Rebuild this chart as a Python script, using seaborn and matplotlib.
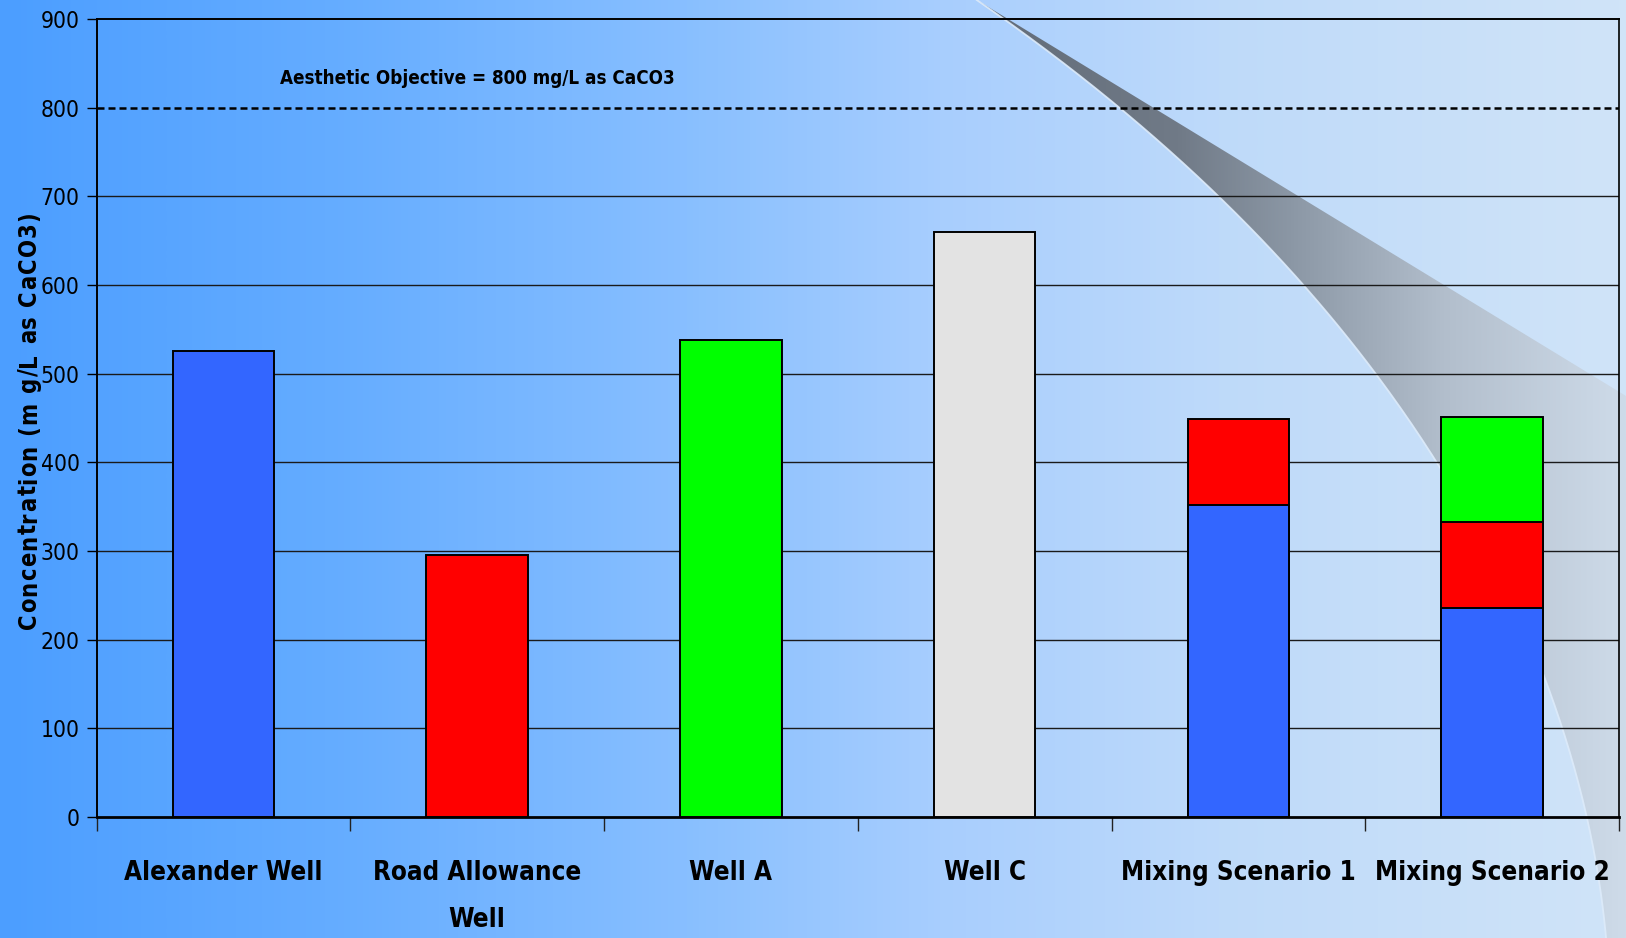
import numpy as np
import pandas as pd
import seaborn as sns
import matplotlib
matplotlib.use("Agg")
import matplotlib.pyplot as plt
from matplotlib.font_manager import (FontProperties, findfont, get_font,
                                     fontManager, weight_dict)
from matplotlib.patches import Polygon
from matplotlib.transforms import IdentityTransform
from matplotlib.colors import LinearSegmentedColormap
from matplotlib.ticker import FixedLocator

# ---- data -------------------------------------------------------------
categories = ["Alexander Well", "Road Allowance\nWell", "Well A", "Well C",
              "Mixing Scenario 1", "Mixing Scenario 2"]
sources = ["Alexander Well", "Road Allowance Well", "Well A", "Well C"]
source_colors = ["#3366FF", "#FF0000", "#00FF00", "#E3E3E3"]

alexander = [525, 0, 0, 0, 352, 236]
road_allowance = [0, 295, 0, 0, 97, 97]
well_a = [0, 0, 538, 0, 0, 118]
well_c = [0, 0, 0, 660, 0, 0]

y_ticks = [0, 100, 200, 300, 400, 500, 600, 700, 800, 900]
objective = 800
objective_label = "Aesthetic Objective = 800 mg/L as CaCO3"
y_label = "Concentration (m g/L as CaCO3)"

W, H, DPI = 1626, 938, 100

# ---- fonts: prefer a narrow sans, fall back to Liberation Sans -------------
NAME_RANK = {"liberation sans narrow": 0, "arial narrow": 1, "dejavu sans": 2,
             "roboto condensed": 3, "noto sans": 4, "open sans": 5}


def _weight(e):
    w = e.weight
    if isinstance(w, (int, float)):
        return w
    return weight_dict.get(str(w), 400)


def narrow_font_file(bold):
    want = 700 if bold else 400
    cands = []
    for e in fontManager.ttflist:
        nm = e.name.lower()
        narrow = ("narrow" in nm or "condensed" in nm
                  or "condensed" in str(e.stretch).lower())
        if narrow and e.style == "normal":
            diff = abs(_weight(e) - want)
            cands.append((diff > 100, NAME_RANK.get(nm, 9), diff, e.fname))
    if not cands:
        return None
    cands.sort()
    if cands[0][0]:
        return None
    return cands[0][3]


def make_fp(bold, size):
    f = narrow_font_file(bold)
    if f is not None:
        return FontProperties(fname=f, size=size)
    return FontProperties(family="Liberation Sans",
                          weight="bold" if bold else "normal", size=size)


def advances(s, fp):
    font = get_font(findfont(fp))
    font.set_size(fp.get_size_in_points(), DPI)
    return [font.load_char(ord(c)).linearHoriAdvance / 65536 for c in s]


def fitted_fp(bold, sample, target_px, max_pt):
    probe = make_fp(bold, 10)
    w = sum(advances(sample, probe))
    return make_fp(bold, min(max_pt, 10 * target_px / w))


fp_xlab = fitted_fp(True, "Mixing Scenario 1", 234, 28)
fp_ytick = fitted_fp(False, "900", 39, 22)
fp_note = fitted_fp(True, objective_label, 395, 21)

# ---- long table with stacked tops --------------------------------------
series = [alexander, road_allowance, well_a, well_c]
rows = []
for ci, cat in enumerate(categories):
    running = 0
    for si, src in enumerate(sources):
        v = series[si][ci]
        running += v
        if v > 0:
            rows.append({"category": cat, "source": src, "value": v, "top": running})
df = pd.DataFrame(rows)

fig = plt.figure(figsize=(W / DPI, H / DPI), dpi=DPI)

# ---- background: horizontal blue gradient + page swoosh ----------------
bg = fig.add_axes([0, 0, 1, 1], zorder=-10)
bg.set_xlim(0, W)
bg.set_ylim(H, 0)
bg.axis("off")

bg_cmap = LinearSegmentedColormap.from_list("bg", [
    (0.00, (76 / 255, 158 / 255, 255 / 255)),
    (0.20, (100 / 255, 172 / 255, 255 / 255)),
    (0.42, (136 / 255, 191 / 255, 255 / 255)),
    (0.58, (168 / 255, 206 / 255, 254 / 255)),
    (0.75, (190 / 255, 218 / 255, 250 / 255)),
    (1.00, (208 / 255, 228 / 255, 248 / 255)),
])
grad = np.linspace(0, 1, 512)[None, :]
bg.imshow(grad, cmap=bg_cmap, aspect="auto", extent=(0, W, H, 0),
          interpolation="bicubic", zorder=0)

# curved edge of the swoosh, x as a smooth function of y
edge_y = np.array([0, 62, 118, 197, 284, 374, 463, 560, 670, 800, 938], float)
edge_x = np.array([976, 1060, 1137, 1220, 1300, 1370, 1441, 1495, 1542, 1580, 1607], float)
coef = np.polyfit(edge_y / H, edge_x, 4)
yy = np.linspace(0, H, 300)
xx = np.polyval(coef, yy / H)
curve = np.column_stack([xx, yy])
swoosh_pts = np.vstack([curve, [(W, H), (W, 396), (xx[0], 0)]])
swoosh = Polygon(swoosh_pts, closed=True, facecolor="none", edgecolor="none")
bg.add_patch(swoosh)
sw_cmap = LinearSegmentedColormap.from_list("sw", [
    (0.00, (98 / 255, 108 / 255, 120 / 255)),
    (0.31, (112 / 255, 122 / 255, 135 / 255)),
    (0.49, (140 / 255, 152 / 255, 166 / 255)),
    (0.72, (178 / 255, 190 / 255, 204 / 255)),
    (1.00, (206 / 255, 219 / 255, 233 / 255)),
])
im = bg.imshow(grad, cmap=sw_cmap, aspect="auto", extent=(976, W, H, 0),
               interpolation="bicubic", zorder=1)
im.set_clip_path(swoosh)
bg.plot(xx, yy, color="#DDEBFA", lw=1.3, alpha=0.9, zorder=2)

# ---- main chart ---------------------------------------------------------
left, right, top, bottom = 96.5, 1619, 19, 817
ax = fig.add_axes([left / W, 1 - bottom / H, (right - left) / W, (bottom - top) / H])
ax.patch.set_alpha(0)

# stacked bars: draw cumulative tops from the highest layer downwards
for src, col in reversed(list(zip(sources, source_colors))):
    sub = df[df["source"] == src]
    if sub.empty:
        continue
    sns.barplot(data=sub, x="category", y="top", order=categories, color=col,
                saturation=1, width=0.4, edgecolor="black", linewidth=1.4,
                errorbar=None, ax=ax, zorder=3)

ax.set_xlim(-0.5, len(categories) - 0.5)
ax.set_ylim(y_ticks[0], y_ticks[-1])
ax.set_xlabel("")
ax.set_ylabel("")

grid_vals = [v for v in y_ticks if v not in (y_ticks[0], y_ticks[-1], objective)]
ax.hlines(grid_vals, -0.5, len(categories) - 0.5, color="#1a1a1a", lw=1.0, zorder=1)
ax.axhline(objective, color="black", lw=1.8, ls=(0, (2.8, 1.6)), zorder=2)
ax.text(1.0, 833, objective_label, ha="center", va="center",
        fontproperties=fp_note, zorder=4)

for side, lw in [("left", 1.4), ("right", 1.2), ("top", 1.4), ("bottom", 2.0)]:
    ax.spines[side].set_visible(True)
    ax.spines[side].set_color("black")
    ax.spines[side].set_linewidth(lw)

ax.set_yticks(y_ticks)
ax.set_yticklabels([str(v) for v in y_ticks], fontproperties=fp_ytick)
ax.tick_params(axis="y", length=7, width=1, direction="out", pad=5, colors="black")

em_px = fp_xlab.get_size_in_points() * DPI / 72
ax.set_xticks(range(len(categories)))
ax.set_xticklabels(categories, fontproperties=fp_xlab)
for t in ax.get_xticklabels():
    t.set_linespacing(53 / em_px)
ax.tick_params(axis="x", which="major", length=0, pad=31)
ax.xaxis.set_minor_locator(FixedLocator(np.arange(-0.5, len(categories), 1.0)))
ax.tick_params(axis="x", which="minor", length=10, width=1, direction="out",
               color="#222222")

# ---- letter-spaced vertical axis title -------------------------------------
span = 417.0
fp_ylab = make_fp(True, 17)
adv = advances(y_label, fp_ylab)
spacing = (span - sum(adv)) / (len(y_label) - 1)
if spacing < 1.0:
    scale = (span - (len(y_label) - 1)) / sum(adv)
    fp_ylab = make_fp(True, 17 * scale)
    adv = advances(y_label, fp_ylab)
    spacing = (span - sum(adv)) / (len(y_label) - 1)
y_pos = H - (420 + span / 2)
x_base = 36
for ch, a in zip(y_label, adv):
    fig.text(x_base, y_pos, ch, rotation=90, rotation_mode="anchor",
             ha="left", va="baseline", fontproperties=fp_ylab,
             transform=IdentityTransform())
    y_pos += a + spacing

fig.savefig("out.png", dpi=DPI)
